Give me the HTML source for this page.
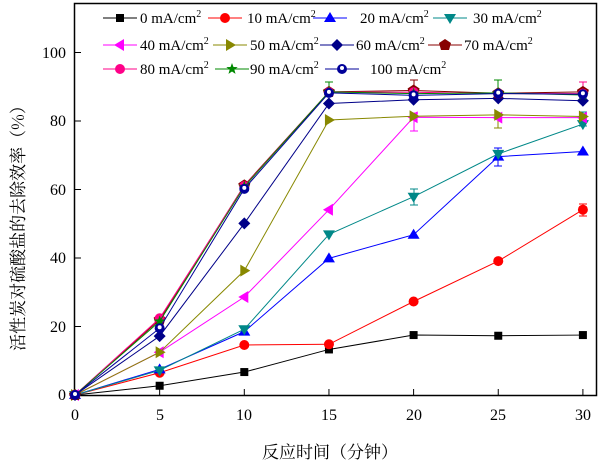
<!DOCTYPE html>
<html><head><meta charset="utf-8"><style>
html,body{margin:0;padding:0;background:#fff;}
svg{display:block;font-family:"Liberation Serif","Noto Serif CJK SC",serif;}
</style></head><body>
<svg id="s" width="600" height="467" viewBox="0 0 600 467" xmlns="http://www.w3.org/2000/svg">
<rect x="74.5" y="3.5" width="522" height="392" fill="none" stroke="#000" stroke-width="1.5"/>
<g font-size="16" fill="#000">
<text x="66" y="400" text-anchor="end">0</text>
<text x="66" y="332" text-anchor="end">20</text>
<text x="66" y="263" text-anchor="end">40</text>
<text x="66" y="195" text-anchor="end">60</text>
<text x="66" y="126" text-anchor="end">80</text>
<text x="66" y="58" text-anchor="end">100</text>
<text x="75" y="420" text-anchor="middle">0</text>
<text x="160" y="420" text-anchor="middle">5</text>
<text x="244" y="420" text-anchor="middle">10</text>
<text x="329" y="420" text-anchor="middle">15</text>
<text x="414" y="420" text-anchor="middle">20</text>
<text x="498" y="420" text-anchor="middle">25</text>
<text x="583" y="420" text-anchor="middle">30</text>
<text x="330" y="458" text-anchor="middle" font-size="17" font-family="Noto Serif CJK SC,serif">反应时间（分钟）</text>
<text transform="translate(24,224) rotate(-90)" text-anchor="middle" font-size="17" font-family="Noto Serif CJK SC,serif">活性炭对硫酸盐的去除效率（%）</text>
</g>
<g id="g"></g>
</svg>
<script>
var NS="http://www.w3.org/2000/svg",g=document.getElementById('g');
function el(t,a,p){var e=document.createElementNS(NS,t);for(var k in a)e.setAttribute(k,a[k]);(p||g).appendChild(e);return e;}
for(var i=0;i<=6;i++){var x=75+i*84.65;el('line',{x1:x,y1:395,x2:x,y2:389,stroke:'#000'});}
for(var i=0;i<=5;i++){var y=395-i*68.5;el('line',{x1:75,y1:y,x2:81,y2:y,stroke:'#000'});}
var S=[
['#000','sq',[0,2.7,6.7,13.3,17.5,17.3,17.5]],
['#f00','ci',[0,6.5,14.6,14.8,27.3,39.1,54.1]],
['#00f','tu',[0,7.5,18.5,39.9,46.8,69.6,71.1]],
['#088','td',[0,7.2,19.2,46.9,57.9,70.4,79.1]],
['#f0f','tl',[0,12.5,28.6,54.1,81.1,81,81]],
['#880','tr',[0,12.5,36.3,80.3,81.4,81.8,81.3]],
['#008','di',[0,17.2,50.1,85.1,86.2,86.6,85.9]],
['#800','pe',[0,22,61.2,88.5,88.9,88.1,88.5]],
['#f08','ci',[0,22.4,61,88.4,88.4,88,88]],
['#080','st',[0,21.5,60.8,88.5,88,88.2,87.6]],
['#009','hc',[0,19.5,60.2,88.2,87.5,88,87.8]]];
function mk(t,c,x,y){var r=5;
 if(t=='sq')el('rect',{x:x-4,y:y-4,width:8,height:8,fill:c});
 else if(t=='ci')el('circle',{cx:x,cy:y,r:r,fill:c});
 else if(t=='hc'){el('circle',{cx:x,cy:y,r:r,fill:c});el('circle',{cx:x,cy:y-1,r:2,fill:'#fff'});}
 else if(t=='tu')el('polygon',{points:[x,y-6,x-6,y+4,x+6,y+4].join(),fill:c});
 else if(t=='td')el('polygon',{points:[x,y+6,x-6,y-4,x+6,y-4].join(),fill:c});
 else if(t=='tl')el('polygon',{points:[x-6,y,x+4,y-6,x+4,y+6].join(),fill:c});
 else if(t=='tr')el('polygon',{points:[x+6,y,x-4,y-6,x-4,y+6].join(),fill:c});
 else if(t=='di')el('polygon',{points:[x,y-6,x+6,y,x,y+6,x-6,y].join(),fill:c});
 else if(t=='pe')el('polygon',{points:[x,y-6,x+6,y-2,x+4,y+5,x-4,y+5,x-6,y-2].join(),fill:c});
 else if(t=='st'){var p=[];for(var k=0;k<10;k++){var a=-Math.PI/2+k*Math.PI/5,rr=k%2?2.5:6;p.push(x+rr*Math.cos(a),y+rr*Math.sin(a));}el('polygon',{points:p.join(),fill:c});}
}
[[329,82,96,'#080'],[414,80,93,'#800'],[498,80,96,'#080'],[583,82,92,'#f08'],[414,113,131,'#f0f'],[498,117,128,'#880'],[583,112,126,'#088'],[414,189,205,'#088'],[498,148,166,'#00f'],[583,204,216,'#f00']].forEach(function(e){
 el('line',{x1:e[0],y1:e[1],x2:e[0],y2:e[2],stroke:e[3]});el('line',{x1:e[0]-4,y1:e[1],x2:e[0]+4,y2:e[1],stroke:e[3]});el('line',{x1:e[0]-4,y1:e[2],x2:e[0]+4,y2:e[2],stroke:e[3]});});
S.forEach(function(s){var pts=s[2].map(function(v,i){return [75+i*84.65,395-v*3.425];});
 el('polyline',{points:pts.join(' '),fill:'none',stroke:s[0],'stroke-width':1});
 pts.forEach(function(p){mk(s[1],s[0],p[0],p[1]);});});
var L=[[0,103,140,18],[1,208,247,18],[2,313,360,18],[3,433,473,18],[4,103,140,45],[5,213,250,45],[6,320,356,45],[7,428,464,45],[8,103,140,69],[9,215,250,69],[10,325,370,69]];
var N=['0','10','20','30','40','50','60','70','80','90','100'];
L.forEach(function(l){var s=S[l[0]];el('line',{x1:l[1],y1:l[3],x2:l[1]+34,y2:l[3],stroke:s[0]});mk(s[1],s[0],l[1]+17,l[3]);
 var t=el('text',{x:l[2],y:l[3]+5,'font-size':15});t.textContent=N[l[0]]+' mA/cm';var sp=el('tspan',{dy:-6,'font-size':10},t);sp.textContent='2';});
</script>
</body></html>
